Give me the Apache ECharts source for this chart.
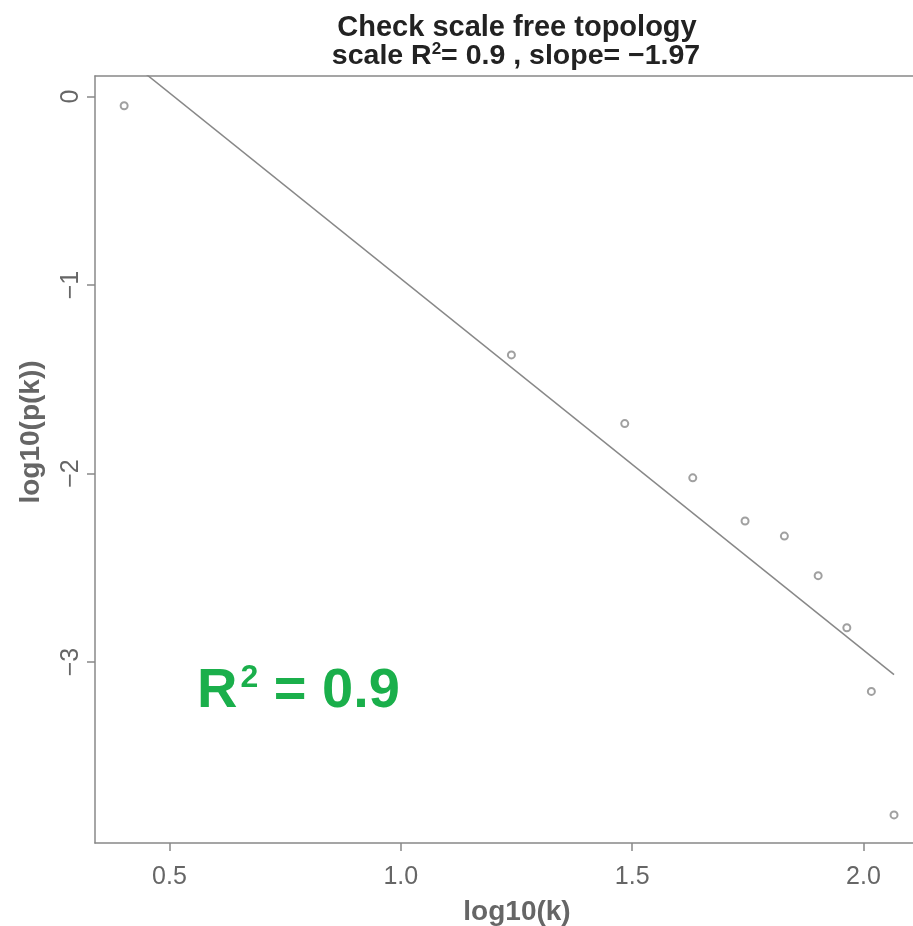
<!DOCTYPE html>
<html><head><meta charset="utf-8">
<script src="https://cdn.jsdelivr.net/npm/echarts@6/dist/echarts.min.js"></script>
<style>html,body{margin:0;padding:0;background:#fff}#c{width:913px;height:926px}</style>
</head><body><div id="c"></div>
<script>
const logK = [0.402, 1.239, 1.484, 1.631, 1.744, 1.829, 1.902, 1.964, 2.017, 2.066];
const logP = [-0.049, -1.371, -1.735, -2.023, -2.252, -2.332, -2.542, -2.818, -3.156, -3.811];
const fitX = [0.402, 2.066];
const fitY = [0.212, -3.067];
const xTicks = [0.5, 1.0, 1.5, 2.0];
const yTicks = [0, -1, -2, -3];
const titleLine1 = 'Check scale free topology';
const rsq = '0.9';
const slope = '\u22121.97';

const FONT = '"Liberation Sans", Arial, sans-serif';
const GRAY = '#888';
const XMIN = 0.339, XMAX = 2.107;
const chart = echarts.init(document.getElementById('c'));
chart.setOption({
  animation: false,
  backgroundColor: '#fff',
  grid: {left: 95, top: 76, right: 0, height: 767},
  xAxis: [{
    type: 'value', min: XMIN, max: XMAX,
    splitLine: {show: false},
    axisLine: {show: true, onZero: false, lineStyle: {color: GRAY, width: 1.5}},
    axisTick: {show: true, inside: false, length: 8, customValues: xTicks, lineStyle: {color: GRAY, width: 1.5}},
    axisLabel: {customValues: xTicks, formatter: v => v.toFixed(1), margin: 22, fontFamily: FONT, fontSize: 25, color: '#666'}
  }, {
    type: 'value', position: 'top', min: XMIN, max: XMAX,
    splitLine: {show: false},
    axisLine: {show: true, onZero: false, lineStyle: {color: GRAY, width: 1.5}},
    axisTick: {show: false}, axisLabel: {show: false}
  }],
  yAxis: {
    type: 'value', min: -3.96, max: 0.1087,
    splitLine: {show: false},
    axisLine: {show: true, onZero: false, lineStyle: {color: GRAY, width: 1.5}},
    axisTick: {show: true, inside: false, length: 8, customValues: yTicks, lineStyle: {color: GRAY, width: 1.5}},
    axisLabel: {customValues: yTicks, rotate: 90, formatter: v => v === 0 ? '0' : '\u2212' + Math.abs(v), margin: 11, fontFamily: FONT, fontSize: 25, color: '#666'}
  },
  graphic: [
    {type: 'text', x: 517, y: 28, style: {text: titleLine1, align: 'center', verticalAlign: 'middle', font: 'bold 29px ' + FONT, fill: '#222'}},
    {type: 'text', x: 516, y: 56, style: {
      text: '{t|scale R}{s|2}{t|= ' + rsq + ' , slope= ' + slope + '}', align: 'center', verticalAlign: 'middle',
      rich: {t: {fontFamily: FONT, fontSize: 28.5, fontWeight: 'bold', fill: '#222', lineHeight: 30},
             s: {fontFamily: FONT, fontSize: 17, fontWeight: 'bold', fill: '#222', verticalAlign: 'top'}}}},
    {type: 'text', x: 517, y: 912, style: {text: 'log10(k)', align: 'center', verticalAlign: 'middle', font: 'bold 28px ' + FONT, fill: '#666'}},
    {type: 'text', x: 31, y: 432, rotation: Math.PI / 2, style: {text: 'log10(p(k))', align: 'center', verticalAlign: 'middle', font: 'bold 28px ' + FONT, fill: '#666'}},
    {type: 'text', x: 197, y: 692, style: {
      text: '{r|R}{s|2}{r| = ' + rsq + '}', align: 'left', verticalAlign: 'middle',
      rich: {r: {fontFamily: FONT, fontSize: 56, fontWeight: 'bold', fill: '#1aaf4b', lineHeight: 60},
             s: {fontFamily: FONT, fontSize: 32, fontWeight: 'bold', fill: '#1aaf4b', verticalAlign: 'top', padding: [0, 0, 0, 3]}}}}
  ],
  series: [
    {type: 'scatter', data: logK.map((x, i) => [x, logP[i]]), symbol: 'emptyCircle', symbolSize: 7,
     itemStyle: {color: GRAY, borderColor: GRAY, borderWidth: 1.6}},
    {type: 'line', data: fitX.map((x, i) => [x, fitY[i]]), showSymbol: false, clip: true,
     lineStyle: {color: GRAY, width: 1.5}}
  ]
});
</script></body></html>
